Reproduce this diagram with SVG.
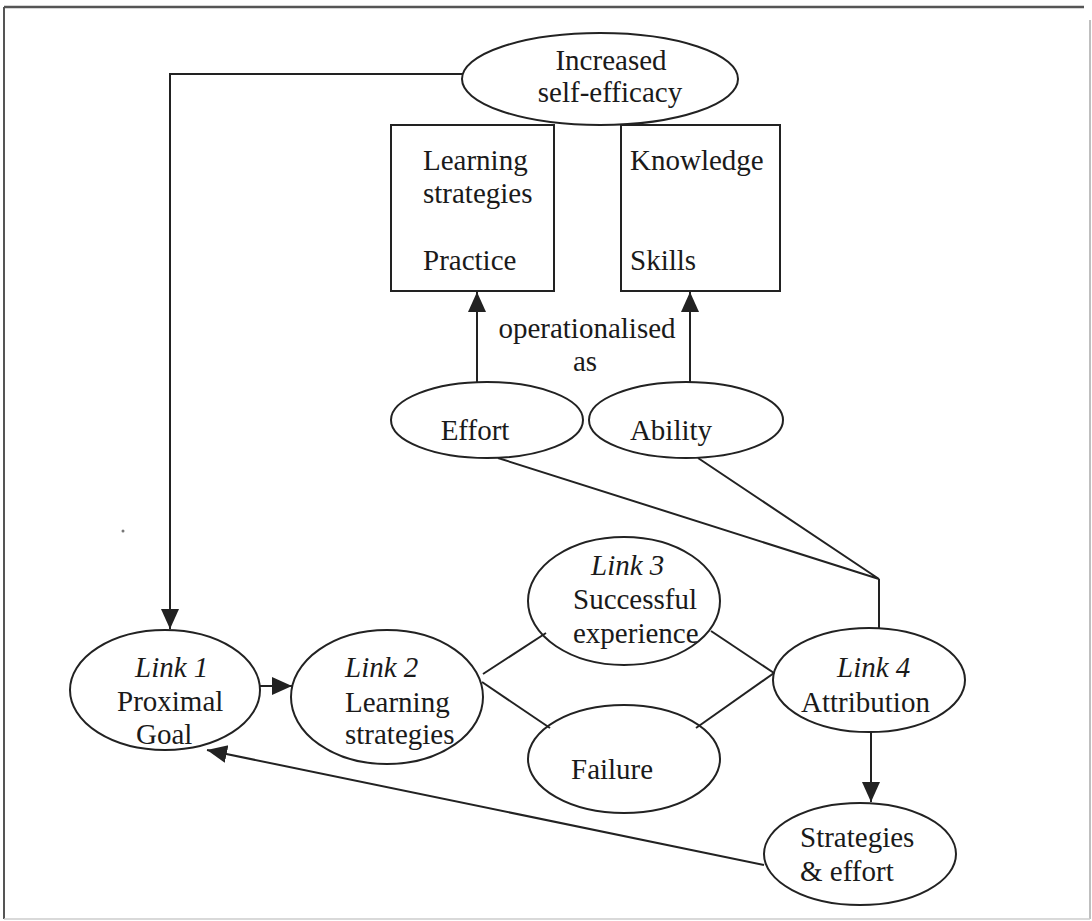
<svg xmlns="http://www.w3.org/2000/svg" width="1092" height="921" viewBox="0 0 1092 921">
<style>
.n{fill:#fff;stroke:#222;stroke-width:2}
.c{fill:none;stroke:#222;stroke-width:2}
.t{font-family:"Liberation Serif","Times New Roman",serif;font-size:29px;fill:#1a1a1a}
.i{font-style:italic}
.m{text-anchor:middle}
</style>
<defs>
<marker id="ah" viewBox="0 0 20 20" refX="20" refY="10" markerWidth="20" markerHeight="20" markerUnits="userSpaceOnUse" orient="auto">
<path d="M0,1 L20,10 L0,19 Z" fill="#222"/>
</marker>
</defs>
<rect x="0" y="0" width="1092" height="921" fill="#fff"/>
<g id="frame">
<line x1="4" y1="7" x2="1084" y2="7" stroke="#555" stroke-width="2.5"/>
<line x1="4" y1="7" x2="4" y2="919" stroke="#555" stroke-width="2"/>
<line x1="1090" y1="20" x2="1090" y2="919" stroke="#aaa" stroke-width="1.5"/>
<line x1="4" y1="919" x2="1090" y2="919" stroke="#ccc" stroke-width="1.5"/>
<circle cx="123" cy="531" r="1.5" fill="#777"/>
</g>
<g id="connectors">
<polyline class="c" points="463,74 170,74 170,629" marker-end="url(#ah)"/>
<line class="c" x1="260" y1="686" x2="292" y2="686" marker-end="url(#ah)"/>
<line class="c" x1="764" y1="865" x2="207" y2="750" marker-end="url(#ah)"/>
<line class="c" x1="477" y1="382" x2="477" y2="292" marker-end="url(#ah)"/>
<line class="c" x1="690" y1="382" x2="690" y2="292" marker-end="url(#ah)"/>
<line class="c" x1="871" y1="732" x2="871" y2="802" marker-end="url(#ah)"/>
<polyline class="c" points="498,458 879,579 698,458"/>
<line class="c" x1="879" y1="579" x2="879" y2="628"/>
<line class="c" x1="483" y1="674" x2="546" y2="633"/>
<line class="c" x1="482" y1="682" x2="550" y2="728"/>
<line class="c" x1="711" y1="631" x2="774" y2="673"/>
<line class="c" x1="696" y1="728" x2="774" y2="673"/>
<text class="t m" x="587" y="338">operationalised</text>
<text class="t m" x="585" y="371">as</text>
</g>
<g id="self-efficacy">
<ellipse class="n" cx="600" cy="79" rx="138" ry="46"/>
<text class="t m" x="611" y="70">Increased</text>
<text class="t m" x="610" y="102">self-efficacy</text>
</g>
<g id="box-effort">
<rect class="n" x="391" y="125" width="163" height="166"/>
<text class="t" x="423" y="170">Learning</text>
<text class="t" x="423" y="203">strategies</text>
<text class="t" x="423" y="270">Practice</text>
</g>
<g id="box-ability">
<rect class="n" x="621" y="125" width="159" height="166"/>
<text class="t" x="630" y="170">Knowledge</text>
<text class="t" x="630" y="270">Skills</text>
</g>
<g id="effort">
<ellipse class="n" cx="487" cy="420" rx="96" ry="38"/>
<text class="t m" x="475" y="440">Effort</text>
</g>
<g id="ability">
<ellipse class="n" cx="686" cy="420" rx="97" ry="38"/>
<text class="t m" x="671" y="440">Ability</text>
</g>
<g id="link1">
<ellipse class="n" cx="165" cy="690" rx="95" ry="60"/>
<text class="t i" x="135" y="677">Link 1</text>
<text class="t" x="117" y="711">Proximal</text>
<text class="t" x="136" y="744">Goal</text>
</g>
<g id="link2">
<ellipse class="n" cx="387" cy="697" rx="96" ry="67"/>
<text class="t i" x="345" y="677">Link 2</text>
<text class="t" x="345" y="712">Learning</text>
<text class="t" x="345" y="744">strategies</text>
</g>
<g id="link3">
<ellipse class="n" cx="624" cy="601" rx="96" ry="64" fill-opacity="0"/>
<text class="t i" x="591" y="575">Link 3</text>
<text class="t" x="573" y="609">Successful</text>
<text class="t" x="573" y="643">experience</text>
</g>
<g id="failure">
<ellipse class="n" cx="624" cy="759" rx="96" ry="54" fill-opacity="0"/>
<text class="t" x="571" y="779">Failure</text>
</g>
<g id="link4">
<ellipse class="n" cx="869" cy="680" rx="96" ry="52" fill-opacity="0"/>
<text class="t i" x="837" y="677">Link 4</text>
<text class="t" x="801" y="712">Attribution</text>
</g>
<g id="strategies-effort">
<ellipse class="n" cx="860" cy="854" rx="96" ry="51" fill-opacity="0"/>
<text class="t" x="800" y="847">Strategies</text>
<text class="t" x="800" y="881">&amp; effort</text>
</g>
</svg>
